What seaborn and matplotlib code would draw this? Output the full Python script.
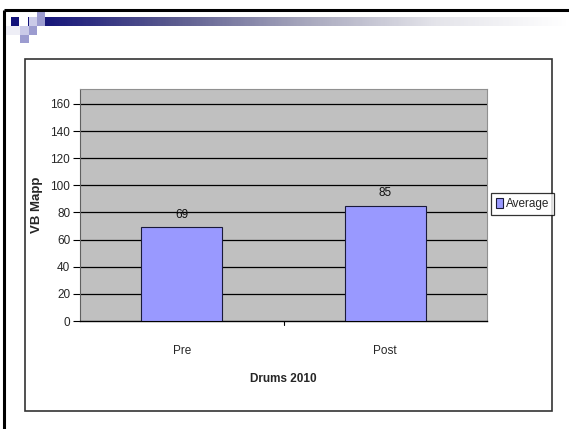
import numpy as np
import pandas as pd
import matplotlib
matplotlib.use("Agg")
import matplotlib.pyplot as plt
from matplotlib.patches import Rectangle, Patch
from matplotlib.colors import LinearSegmentedColormap
import seaborn as sns

# data
categories = ["Pre", "Post"]
average = [69, 85]
y_ticks = [0, 20, 40, 60, 80, 100, 120, 140, 160]
series_name = "Average"

df = pd.DataFrame({"phase": categories, "value": average})

sns.set_theme(style="white")
plt.rcParams["font.family"] = ["Liberation Sans", "DejaVu Sans"]

W, H = 569, 429
fig = plt.figure(figsize=(W / 100, H / 100), dpi=100)
fig.patch.set_facecolor("white")

# slide decoration drawn in pixel coords on a background axes
bg = fig.add_axes([0, 0, 1, 1], zorder=0)
bg.set_xlim(0, W)
bg.set_ylim(H, 0)
bg.axis("off")

# header gradient bar
grad_cmap = LinearSegmentedColormap.from_list("hdr", ["#14147a", "#5a5a8e", "#a6a6bc", "#e4e4ea", "#ffffff"])
bg.imshow(np.linspace(0, 1, 300)[None, :], cmap=grad_cmap, aspect="auto",
          extent=(38, W, 26, 17), zorder=1)

# little squares
navy, light, mid = "#12127a", "#cacae8", "#9c9cd0"
for (x0, y0, w, h, c) in [(11, 17, 8, 9, navy), (28, 17, 1.2, 9, navy), (29, 17, 8, 9, light),
                          (37, 12, 8, 14, mid), (20, 26, 9, 8.5, light), (29, 26, 8, 8.5, mid),
                          (20, 34.5, 9, 8.5, mid), (6, 26, 14, 8.5, "#eeeef6")]:
    bg.add_patch(Rectangle((x0, y0), w, h, facecolor=c, edgecolor="none", zorder=2))

# slide frame lines
bg.plot([4, W], [10, 10], color="black", lw=2.2, solid_capstyle="butt", zorder=3)
bg.plot([4, 4], [10, H], color="black", lw=2.2, solid_capstyle="butt", zorder=3)

# chart box
bg.add_patch(Rectangle((25, 59), 527, 352, facecolor="white", edgecolor="#333333", lw=1.2, zorder=2))

# plot area
ax = fig.add_axes([80 / W, 1 - 321 / H, (487 - 80) / W, (321 - 89) / H], zorder=1)
ax.set_facecolor("#c0c0c0")

sns.barplot(data=df, x="phase", y="value", color="#9999ff", width=0.40,
            edgecolor="#1a1a3a", linewidth=0.8, saturation=1, ax=ax, zorder=3)

for i, v in enumerate(average):
    ax.text(i, v + 5, str(v), ha="center", va="bottom", fontsize=8.5, color="#111111", zorder=4)

ax.set_ylim(0, 171)
ax.set_xlim(-0.5, 1.5)
ax.set_yticks(y_ticks)
ax.set_yticklabels([str(t) for t in y_ticks], fontsize=8.5)
for t in y_ticks[1:]:
    ax.axhline(t, color="black", lw=0.9, zorder=2)

ax.set_xticks([0, 1])
ax.set_xticklabels(categories, fontsize=8.5)
ax.tick_params(axis="x", length=0, pad=17)
ax.tick_params(axis="y", length=5, width=0.8, color="black", left=True, pad=2)
# tick between categories
ax.plot([0.5, 0.5], [0, -3], color="black", lw=0.8, clip_on=False, zorder=4)

ax.set_xlabel("Drums 2010", fontsize=8.5, fontweight="bold", labelpad=12)
ax.set_ylabel("VB Mapp", fontsize=9.5, fontweight="bold", labelpad=5)

for side in ["top", "right"]:
    ax.spines[side].set_color("#909090")
    ax.spines[side].set_linewidth(0.8)
ax.spines["left"].set_color("#606060")
ax.spines["left"].set_linewidth(0.8)
ax.spines["bottom"].set_color("black")
ax.spines["bottom"].set_linewidth(1.0)

handles = [Patch(facecolor="#9999ff", edgecolor="#1a1a3a", linewidth=0.8, label=series_name)]
leg = fig.legend(handles=handles, loc="center", bbox_to_anchor=(522.5 / W, 1 - 204 / H),
                 fontsize=8.5, frameon=True, fancybox=False, handlelength=0.6, handleheight=0.9,
                 handletextpad=0.2, borderpad=0.45, borderaxespad=0)
leg.get_frame().set_edgecolor("black")
leg.get_frame().set_linewidth(0.9)
leg.set_zorder(5)

fig.savefig("out.png", dpi=100)
